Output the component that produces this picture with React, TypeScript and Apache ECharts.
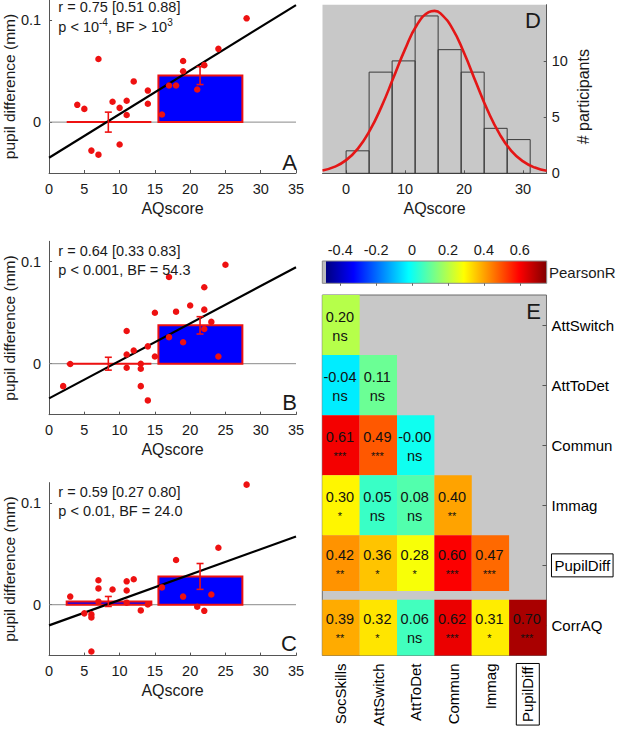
import React, { useEffect, useRef } from 'react';
import * as echarts from 'echarts';

const FONT = '"Liberation Sans", Arial, Helvetica, sans-serif';
const TXT = '#1a1a1a';
const AXC = '#555555';
const RED = '#ee1111';
const BLUE = '#0000ff';
const GRAY_BG = '#c8c8c8';

// ---------- Panels A-C: pupil difference vs AQ score ----------
const aX = [4, 5, 6, 7, 7, 9, 10, 10, 11, 11, 12, 14, 14, 16, 17, 18, 19, 19, 21, 22, 24, 28];
const aY = [0.017, 0.013, -0.028, 0.062, -0.032, 0.020, 0.014, -0.022, 0.021, 0.007, 0.040, 0.031, 0.018, 0.0075, 0.036, 0.036, 0.060, 0.050, 0.032, 0.056, 0.072, 0.102];

const bX = [2, 3, 11, 11, 11, 12, 13, 13, 13, 14, 14, 15, 15, 17, 17, 18, 19, 20, 22, 22, 22, 23, 24, 25];
const bY = [-0.022, -0.0003, 0.032, 0.009, -0.004, 0.013, 0, -0.005, -0.022, 0.017, -0.036, 0.050, 0.007, 0.085, 0.026, 0.051, 0.021, 0.057, 0.075, 0.053, 0.034, 0.041, 0.007, 0.097];

const cX = [3, 5, 6, 6, 6, 7, 7, 7, 9, 11, 11, 11, 12, 13, 14, 16, 18, 19, 21, 22, 23, 24, 28];
const cY = [0.008, -0.0085, -0.0095, -0.0125, -0.046, 0.024, 0.016, 0.003, 0.015, 0.023, 0.014, 0.002, 0.025, -0.0056, 0.0003, 0.017, 0.044, 0.008, -0.002, -0.006, 0.010, 0.056, 0.118];

const groupX0 = [2.5, 15.5];
const groupX1 = [14.5, 27.4];
const groupErrX = [8.4, 21.4];
const meanA = [0, 0.0457];
const errA = [0.0098, 0.0088];
const meanB = [0, 0.0376];
const errB = [0.0063, 0.0085];
const meanC = [0.0032, 0.0278];
const errC = [0.0049, 0.0127];

const fitX = [0, 35];
const fitA = [-0.035, 0.115];
const fitB = [-0.034, 0.0945];
const fitC = [-0.0203, 0.067];

const statsA = ['r = 0.75 [0.51 0.88]', '{t|p < 10}{s|-4}{t|, BF > 10}{s|3}'];
const statsB = ['r = 0.64 [0.33 0.83]', '{t|p < 0.001, BF = 54.3}'];
const statsC = ['r = 0.59 [0.27 0.80]', '{t|p < 0.01, BF = 24.0}'];
const scatterYTicks = [0, 0.1];

// ---------- Panel D: histogram of AQ scores ----------
const binEdges = [0, 3.9, 7.8, 11.7, 15.6, 19.5, 23.4, 27.3, 31.2];
const binCounts = [2, 9, 10, 14, 11, 9, 4, 3];
const curveX = [-4, -2, 0, 2, 4, 6, 8, 10, 12, 14, 15, 16, 18, 20, 22, 24, 26, 28, 30, 32, 34];
const curveY = [0.25, 0.57, 1.17, 2.2, 3.79, 5.93, 8.47, 11.05, 13.2, 14.33, 14.45, 14.23, 12.9, 10.7, 8.1, 5.58, 3.51, 2.0, 1.06, 0.51, 0.22];
const histXTicks = [0, 10, 20, 30];
const histYTicks = [0, 5, 10];

// ---------- Panel E: correlation matrix ----------
const corrCols = ['SocSkills', 'AttSwitch', 'AttToDet', 'Commun', 'Immag', 'PupilDiff'];
const corrRows = ['AttSwitch', 'AttToDet', 'Commun', 'Immag', 'PupilDiff', 'CorrAQ'];
const corrVals = [
  [0.20],
  [-0.04, 0.11],
  [0.61, 0.49, -0.001],
  [0.30, 0.05, 0.08, 0.40],
  [0.42, 0.36, 0.28, 0.60, 0.47],
  [0.39, 0.32, 0.06, 0.62, 0.31, 0.70],
];
const corrSig = [
  ['ns'],
  ['ns', 'ns'],
  ['***', '***', 'ns'],
  ['*', 'ns', 'ns', '**'],
  ['**', '*', '*', '***', '***'],
  ['**', '*', 'ns', '***', '*', '***'],
];
const cbTicks = [-0.4, -0.2, 0, 0.2, 0.4, 0.6];
const cbMin = -0.5;
const cbMax = 0.75;
const mapMin = -0.48;
const JET = ['#000080', '#0000ff', '#0080ff', '#00ffff', '#80ff80', '#ffff00', '#ff8000', '#ff0000', '#800000'];

const ROW_GAP = 4.3;

function textEl(x: number, y: number, text: string, opts: any = {}) {
  const align = opts.align || 'left';
  const va = opts.verticalAlign || 'middle';
  return {
    type: 'text',
    x,
    y,
    rotation: opts.rotation || 0,
    z: 100,
    style: {
      text,
      fill: opts.fill || TXT,
      fontSize: opts.fontSize || 14.5,
      fontFamily: FONT,
      align,
      verticalAlign: va,
      textAlign: align,
      textVerticalAlign: va,
      rich: opts.rich,
    },
  };
}

export default function App() {
  const ref = useRef<HTMLDivElement>(null);

  useEffect(() => {
    if (!ref.current) return;
    const chart = echarts.init(ref.current, undefined, { renderer: 'svg' });

    const grids: any[] = [
      { left: 46, top: 0, width: 250, height: 173 },
      { left: 46, top: 241.3, width: 250, height: 173.4 },
      { left: 46, top: 482.6, width: 250, height: 173 },
      { left: 322.5, top: 4.7, width: 224.2, height: 168.6, show: true, backgroundColor: GRAY_BG, borderWidth: 0 },
      { left: 322.3, top: 261, width: 224.4, height: 22.3 },
      { left: 322.3, top: 295, width: 224.4, height: 361.7, show: true, backgroundColor: GRAY_BG, borderColor: '#6a6a6a', borderWidth: 1 },
    ];

    const labelStyle = { fontSize: 14.5, color: TXT, fontFamily: FONT };
    const nameStyle = { fontSize: 16, color: TXT, fontFamily: FONT };

    const xAxes: any[] = [];
    const yAxes: any[] = [];
    for (let gi = 0; gi < 3; gi++) {
      xAxes.push({
        type: 'value', gridIndex: gi, min: 0, max: 35, interval: 5,
        name: 'AQscore', nameLocation: 'middle', nameGap: 27, nameTextStyle: nameStyle,
        axisLine: { show: true, onZero: false, lineStyle: { color: AXC, width: 1 } },
        axisTick: { show: true, inside: true, length: 3, lineStyle: { color: AXC } },
        axisLabel: { ...labelStyle, margin: 8 },
        splitLine: { show: false },
      });
      yAxes.push({
        type: 'value', gridIndex: gi, min: -0.05, max: 0.12,
        name: 'pupil difference (mm)', nameLocation: 'middle', nameGap: 28,
        nameTextStyle: { ...nameStyle, fontSize: 15.5 },
        axisLine: { show: true, onZero: false, lineStyle: { color: AXC, width: 1 } },
        axisTick: { show: true, inside: true, length: 3, customValues: scatterYTicks, lineStyle: { color: AXC } },
        axisLabel: {
          ...labelStyle, margin: 8, customValues: scatterYTicks,
          formatter: (v: number) => (Math.abs(v) < 1e-9 ? '0' : v.toFixed(1)),
        },
        splitLine: { show: false },
      });
    }
    // D
    xAxes.push({
      type: 'value', gridIndex: 3, min: -4, max: 34,
      name: 'AQscore', nameLocation: 'middle', nameGap: 27, nameTextStyle: nameStyle,
      axisLine: { show: true, onZero: false, lineStyle: { color: AXC } },
      axisTick: { show: true, inside: true, length: 3, customValues: histXTicks, lineStyle: { color: AXC } },
      axisLabel: { ...labelStyle, margin: 8, customValues: histXTicks },
      splitLine: { show: false },
    });
    yAxes.push({
      type: 'value', gridIndex: 3, min: 0, max: 15, position: 'right',
      axisLine: { show: true, onZero: false, lineStyle: { color: AXC } },
      axisTick: { show: true, inside: true, length: 3, customValues: histYTicks, lineStyle: { color: AXC } },
      axisLabel: { ...labelStyle, margin: 5, customValues: histYTicks },
      splitLine: { show: false },
    });
    // colorbar
    xAxes.push({
      type: 'value', gridIndex: 4, min: cbMin, max: cbMax, position: 'top', z: 10,
      axisLine: { show: false },
      axisTick: { show: true, inside: true, length: 2.5, customValues: cbTicks, lineStyle: { color: '#666' } },
      axisLabel: {
        ...labelStyle, margin: 4, customValues: cbTicks,
        formatter: (v: number) => (Math.abs(v) < 1e-9 ? '0' : v.toFixed(1)),
      },
      splitLine: { show: false },
    });
    yAxes.push({ type: 'value', gridIndex: 4, min: 0, max: 1, show: false });
    // heatmap
    const boxRich = {
      box: { fontSize: 15, fontFamily: FONT, color: '#000', borderColor: '#000', borderWidth: 1, padding: [4, 3, 4, 3] },
      n: { fontSize: 15, fontFamily: FONT, color: '#000' },
    };
    xAxes.push({
      type: 'category', gridIndex: 5, data: corrCols, position: 'bottom',
      axisLine: { show: false }, axisTick: { show: false },
      axisLabel: {
        rotate: 90, margin: 8, fontSize: 15, fontFamily: FONT, color: '#000',
        formatter: (v: string) => (v === 'PupilDiff' ? `{box|${v}}` : `{n|${v}}`), rich: boxRich,
      },
      splitLine: { show: false },
    });
    yAxes.push({
      type: 'category', gridIndex: 5, data: corrRows, inverse: true, position: 'right',
      axisLine: { show: false },
      axisTick: { show: true, inside: true, length: 4, alignWithLabel: true, lineStyle: { color: '#555' } },
      axisLabel: {
        margin: 5, fontSize: 15, fontFamily: FONT, color: '#000',
        formatter: (v: string) => (v === 'PupilDiff' ? `{box|${v}}` : `{n|${v}}`), rich: boxRich,
      },
      splitLine: { show: false },
    });

    const series: any[] = [];
    const panels = [
      { xs: aX, ys: aY, means: meanA, errs: errA, fit: fitA },
      { xs: bX, ys: bY, means: meanB, errs: errB, fit: fitB },
      { xs: cX, ys: cY, means: meanC, errs: errC, fit: fitC },
    ];
    panels.forEach((p, gi) => {
      series.push({
        type: 'line', xAxisIndex: gi, yAxisIndex: gi, z: 1, symbol: 'none', silent: true,
        data: [[fitX[0], 0], [fitX[1], 0]],
        lineStyle: { color: '#8a8a8a', width: 1 },
      });
      series.push({
        type: 'custom', xAxisIndex: gi, yAxisIndex: gi, z: 2,
        data: groupX0.map((x0, i) => [x0, p.means[i], groupX1[i]]),
        renderItem: (params: any, api: any) => {
          const a = api.coord([api.value(0), api.value(1)]);
          const b = api.coord([api.value(2), 0]);
          return {
            type: 'rect',
            shape: { x: a[0], y: Math.min(a[1], b[1]), width: b[0] - a[0], height: Math.abs(b[1] - a[1]) },
            style: { fill: BLUE, stroke: RED, lineWidth: 2 },
          };
        },
      });
      series.push({
        type: 'line', xAxisIndex: gi, yAxisIndex: gi, z: 3, symbol: 'none',
        data: [[fitX[0], p.fit[0]], [fitX[1], p.fit[1]]],
        lineStyle: { color: '#000', width: 2.2 },
      });
      series.push({
        type: 'custom', xAxisIndex: gi, yAxisIndex: gi, z: 4,
        data: groupErrX.map((x, i) => [x, p.means[i], p.errs[i]]),
        renderItem: (params: any, api: any) => {
          const x = api.value(0), m = api.value(1), e = api.value(2);
          const t = api.coord([x, m + e]);
          const b = api.coord([x, m - e]);
          const w = 3.5;
          const st = { stroke: RED, lineWidth: 1.6 };
          return {
            type: 'group',
            children: [
              { type: 'line', shape: { x1: t[0], y1: t[1], x2: b[0], y2: b[1] }, style: st },
              { type: 'line', shape: { x1: t[0] - w, y1: t[1], x2: t[0] + w, y2: t[1] }, style: st },
              { type: 'line', shape: { x1: b[0] - w, y1: b[1], x2: b[0] + w, y2: b[1] }, style: st },
            ],
          };
        },
      });
      series.push({
        type: 'scatter', xAxisIndex: gi, yAxisIndex: gi, z: 5, symbolSize: 6.5,
        itemStyle: { color: RED, opacity: 1 },
        data: p.xs.map((x, i) => [x, p.ys[i]]),
      });
    });

    // D histogram
    series.push({
      type: 'custom', xAxisIndex: 3, yAxisIndex: 3, z: 2,
      data: binCounts.map((c, i) => [binEdges[i], c, binEdges[i + 1]]),
      renderItem: (params: any, api: any) => {
        const a = api.coord([api.value(0), api.value(1)]);
        const b = api.coord([api.value(2), 0]);
        return {
          type: 'rect',
          shape: { x: a[0], y: a[1], width: b[0] - a[0], height: b[1] - a[1] },
          style: { fill: 'rgba(0,0,0,0)', stroke: '#3a3a3a', lineWidth: 1 },
        };
      },
    });
    series.push({
      type: 'line', xAxisIndex: 3, yAxisIndex: 3, z: 3, symbol: 'none', smooth: true,
      data: curveX.map((x, i) => [x, curveY[i]]),
      lineStyle: { color: '#e41616', width: 2.6 },
    });

    // colorbar
    const span = cbMax - cbMin;
    const grayEnd = (mapMin - cbMin) / span;
    const stops: any[] = [
      { offset: 0, color: '#bdbdbd' },
      { offset: grayEnd, color: '#bdbdbd' },
    ];
    JET.forEach((c, i) => {
      stops.push({ offset: grayEnd + ((1 - grayEnd) * i) / (JET.length - 1), color: c });
    });
    series.push({
      type: 'custom', xAxisIndex: 4, yAxisIndex: 4, z: 2,
      data: [[cbMin, 0, cbMax, 1]],
      renderItem: (params: any, api: any) => {
        const a = api.coord([api.value(0), api.value(3)]);
        const b = api.coord([api.value(2), api.value(1)]);
        return {
          type: 'rect',
          shape: { x: a[0], y: a[1], width: b[0] - a[0], height: b[1] - a[1] },
          style: {
            fill: { type: 'linear', x: 0, y: 0, x2: 1, y2: 0, colorStops: stops },
            stroke: '#8a8a8a', lineWidth: 1,
          },
        };
      },
    });

    // heatmap cells
    const cellData: any[] = [];
    const cellSig: string[] = [];
    corrVals.forEach((row, r) => {
      row.forEach((v, c) => {
        cellData.push([c, r, v]);
        cellSig.push(corrSig[r][c]);
      });
    });
    const heatIdx = series.length;
    series.push({
      type: 'custom', xAxisIndex: 5, yAxisIndex: 5, z: 2,
      data: cellData,
      encode: { x: 0, y: 1 },
      renderItem: (params: any, api: any) => {
        const c = api.value(0), r = api.value(1), v = api.value(2);
        const center = api.coord([c, r]);
        const size = api.size([1, 1]);
        let top = center[1] - size[1] / 2;
        let h = size[1];
        const rowName = corrRows[r];
        if (rowName === 'PupilDiff') h -= ROW_GAP;
        if (rowName === 'CorrAQ') { top += ROW_GAP; h -= ROW_GAP; }
        const left = center[0] - size[0] / 2;
        const sig = cellSig[params.dataIndex];
        const txt = `{v|${v.toFixed(2)}}\n{${sig === 'ns' ? 'n' : 's'}|${sig}}`;
        return {
          type: 'group',
          children: [
            { type: 'rect', shape: { x: left, y: top, width: size[0], height: h }, style: { fill: api.visual('color') } },
            {
              type: 'text',
              z2: 10,
              style: {
                x: center[0] - 1, y: top + h / 2 + 1,
                text: txt,
                align: 'center', verticalAlign: 'middle',
                fontFamily: FONT, fontSize: 14.5, fill: '#111',
                rich: {
                  v: { fontSize: 14.5, lineHeight: 19, fontFamily: FONT, fill: '#111' },
                  n: { fontSize: 14.5, lineHeight: 19, fontFamily: FONT, fill: '#111' },
                  s: { fontSize: 11, lineHeight: 19, fontFamily: FONT, fill: '#111' },
                },
              },
            },
          ],
        };
      },
    });

    const sup = {
      t: { fontSize: 14.5, lineHeight: 18, fontFamily: FONT, fill: TXT },
      s: { fontSize: 10, lineHeight: 10, verticalAlign: 'top', fontFamily: FONT, fill: TXT },
    };

    const graphics: any[] = [
      textEl(58.3, 6.5, statsA[0]),
      textEl(58.3, 26.7, statsA[1], { rich: sup }),
      textEl(58.3, 250.7, statsB[0]),
      textEl(58.3, 269.5, statsB[1], { rich: sup }),
      textEl(58.3, 491.7, statsC[0]),
      textEl(58.3, 510.7, statsC[1], { rich: sup }),
      textEl(297, 162, 'A', { fontSize: 22, align: 'right' }),
      textEl(297, 402.7, 'B', { fontSize: 22, align: 'right' }),
      textEl(297, 643.3, 'C', { fontSize: 22, align: 'right' }),
      textEl(541, 20.7, 'D', { fontSize: 22, align: 'right' }),
      textEl(541, 311.7, 'E', { fontSize: 22, align: 'right' }),
      textEl(583.3, 96.7, '# participants', { fontSize: 16, align: 'center', rotation: Math.PI / 2 }),
      textEl(549, 272.7, 'PearsonR', { fontSize: 15 }),
    ];

    chart.setOption({
      animation: false,
      backgroundColor: '#ffffff',
      textStyle: { fontFamily: FONT },
      grid: grids,
      xAxis: xAxes,
      yAxis: yAxes,
      visualMap: {
        type: 'continuous', show: false, seriesIndex: heatIdx, dimension: 2,
        min: mapMin, max: cbMax, inRange: { color: JET },
      },
      series,
      graphic: { elements: graphics },
    });

    return () => chart.dispose();
  }, []);

  return <div ref={ref} style={{ position: 'absolute', left: 0, top: 0, width: 617, height: 729 }} />;
}
